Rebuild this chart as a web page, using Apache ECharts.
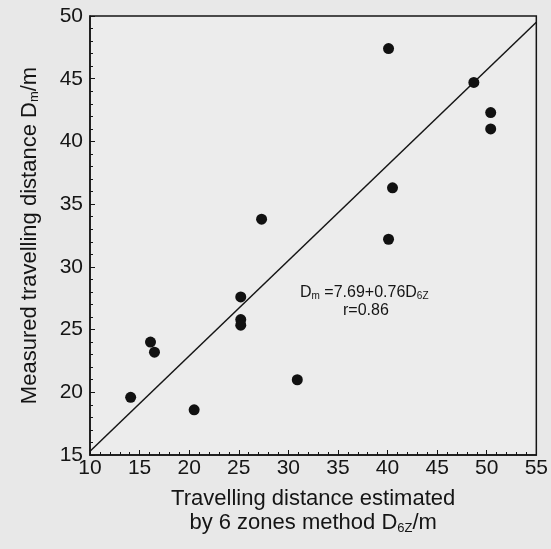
<!DOCTYPE html>
<html>
<head>
<meta charset="utf-8">
<script src="https://cdn.jsdelivr.net/npm/echarts@6/dist/echarts.min.js"></script>
<style>
  html, body { margin: 0; padding: 0; background: #e8e8e8; }
  #graph { width: 551px; height: 549px; }
</style>
</head>
<body>
<div id="graph"></div>
<script>
// estimated distance D6Z (x) and measured distance Dm (y)
var estX = [40.1, 48.7, 50.4, 50.4, 40.5, 40.1, 27.3, 25.2, 25.2, 25.2, 30.9, 16.1, 16.5, 14.1, 20.5];
var measY = [47.4, 44.7, 42.3, 41.0, 36.3, 32.2, 33.8, 27.6, 25.8, 25.35, 21.0, 24.0, 23.2, 19.6, 18.6];
// regression line end points
var fitX = [10, 55];
var fitY = [15.3, 49.5];

var font = 'Liberation Sans';
var ink = '#151515';
var dom = document.getElementById('graph');
var myChart = echarts.init(dom);

var points = estX.map(function (x, i) { return [x, measY[i]]; });
var fit = fitX.map(function (x, i) { return [x, fitY[i]]; });

option = {
    backgroundColor: '#e8e8e8',
    animation: false,
    textStyle: { fontFamily: font },
    grid: {
        left: 90, right: 14, top: 16, bottom: 94,
        show: true, borderColor: ink, borderWidth: 1.5,
        backgroundColor: '#ececec'
    },
    xAxis: {
        type: 'value',
        min: 10, max: 55, interval: 5,
        name: '{s|Travelling distance estimated}\n{s|by 6 zones method D}{sub|6Z}{s|/m}',
        nameLocation: 'middle',
        nameGap: 32,
        nameTextStyle: {
            fontSize: 22, color: ink, lineHeight: 24, fontFamily: font,
            rich: {
                s: { fontSize: 22, color: ink, fontFamily: font, lineHeight: 24 },
                sub: { fontSize: 13, color: ink, fontFamily: font, verticalAlign: 'bottom', lineHeight: 20 }
            }
        },
        axisLine: { lineStyle: { color: ink, width: 1.5 } },
        axisTick: { inside: true, length: 5, lineStyle: { color: ink } },
        minorTick: { show: true, splitNumber: 5, length: 3, lineStyle: { color: ink } },
        splitLine: { show: false },
        axisLabel: { fontSize: 21, color: ink, margin: 3, fontFamily: font }
    },
    yAxis: {
        type: 'value',
        min: 15, max: 50, interval: 5,
        name: '{s|Measured travelling distance D}{sub|m}{s|/m}',
        nameLocation: 'middle',
        nameGap: 49,
        nameRotate: 90,
        nameTextStyle: {
            fontSize: 22, color: ink, fontFamily: font,
            rich: {
                s: { fontSize: 22, color: ink, fontFamily: font },
                sub: { fontSize: 13, color: ink, fontFamily: font, verticalAlign: 'bottom' }
            }
        },
        axisLine: { lineStyle: { color: ink, width: 1.5 } },
        axisTick: { inside: true, length: 5, lineStyle: { color: ink } },
        minorTick: { show: true, splitNumber: 5, length: 3, lineStyle: { color: ink } },
        splitLine: { show: false },
        axisLabel: { fontSize: 21, color: ink, margin: 7, fontFamily: font }
    },
    graphic: [{
        type: 'text',
        left: 300, top: 285,
        style: {
            text: '{a|D}{b|m}{a| =7.69+0.76D}{b|6Z}',
            rich: {
                a: { fontSize: 16, fill: ink, fontFamily: font },
                b: { fontSize: 10, fill: ink, fontFamily: font, verticalAlign: 'bottom' }
            }
        }
    }, {
        type: 'text',
        left: 343, top: 303,
        style: { text: 'r=0.86', fontSize: 16, fill: ink, fontFamily: font }
    }],
    series: [
        {
            type: 'line',
            data: fit,
            symbol: 'none',
            lineStyle: { color: ink, width: 1.5 },
            z: 2
        },
        {
            type: 'scatter',
            data: points,
            symbolSize: 11,
            itemStyle: { color: '#111', opacity: 1 },
            z: 3
        }
    ]
};
myChart.setOption(option, true);
</script>
</body>
</html>
